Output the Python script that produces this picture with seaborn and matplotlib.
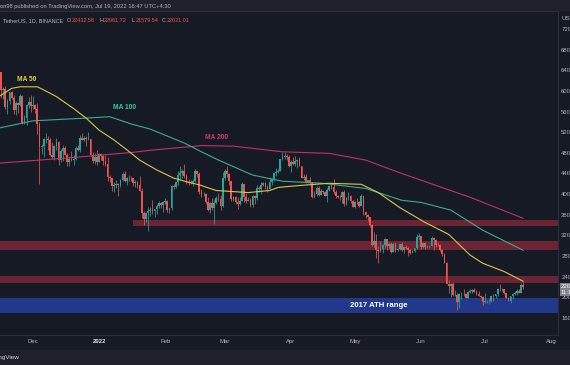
import matplotlib
matplotlib.use("Agg")
import matplotlib.pyplot as plt
import matplotlib.dates as mdates
from matplotlib.patches import Rectangle
import numpy as np
import pandas as pd
import seaborn as sns

# BTC/USDT daily candles (thousands of USDT), Nov 15 2021 .. Jul 19 2022
start_day = "2021-11-15"
first_open = 65.5
closes = [
    # Nov
    63.6, 60.1, 60.4, 56.9, 58.1, 59.7, 58.7, 56.3, 57.6, 57.2, 59.0, 53.7, 54.7, 57.3, 57.8, 57.0,
    # Dec
    57.2, 56.5, 53.6, 49.2, 49.4, 50.6, 50.6, 50.5, 47.5, 47.1, 49.4, 50.1, 46.7, 48.3, 48.9, 47.6,
    46.2, 46.8, 46.7, 46.9, 49.0, 48.6, 50.8, 50.4, 50.8, 50.7, 50.7, 47.5, 46.5, 47.1, 46.2,
    # Jan
    47.7, 47.3, 46.4, 45.8, 43.4, 43.1, 41.5, 41.7, 41.9, 41.8, 42.7, 43.9, 42.6, 43.1, 43.2, 43.1,
    42.2, 42.4, 41.7, 40.7, 36.4, 35.1, 36.3, 36.7, 36.9, 36.8, 37.2, 37.7, 38.2, 37.9, 38.5,
    # Feb
    38.7, 36.9, 37.3, 41.6, 41.4, 42.4, 43.8, 44.0, 44.4, 43.5, 42.4, 42.2, 42.1, 42.5, 44.5, 43.9,
    40.5, 40.0, 40.1, 38.4, 37.0, 38.2, 37.3, 38.3, 39.2, 39.1, 37.7, 43.2,
    # Mar
    44.4, 43.9, 42.5, 39.1, 39.4, 38.4, 38.0, 38.7, 41.9, 39.4, 38.7, 38.8, 37.8, 39.7, 39.3, 41.1,
    40.9, 41.8, 42.2, 41.3, 41.0, 42.4, 42.9, 44.0, 44.3, 44.5, 46.8, 47.1, 47.4, 47.1, 45.5,
    # Apr
    46.3, 45.8, 46.4, 46.6, 45.5, 43.2, 43.4, 42.3, 42.8, 42.2, 39.5, 40.1, 41.1, 39.9, 40.6, 40.4,
    39.7, 40.8, 41.5, 41.4, 40.5, 39.7, 39.5, 39.45, 40.4, 38.1, 39.2, 39.7, 38.6, 37.6,
    # May
    38.5, 38.45, 37.7, 39.7, 36.6, 36.0, 35.5, 34.1, 30.1, 31.0, 29.1, 29.0, 29.3, 30.1, 31.3, 29.9,
    30.4, 28.7, 30.3, 29.2, 29.4, 30.3, 29.1, 29.7, 29.5, 29.2, 28.6, 29.0, 29.5, 31.7, 31.8,
    # Jun
    29.8, 30.5, 29.7, 29.85, 29.9, 31.4, 31.1, 30.2, 30.1, 29.1, 28.4, 26.6, 22.5, 22.1, 22.6, 20.4,
    20.5, 19.0, 20.6, 20.7, 20.65, 19.9, 21.1, 21.2, 21.5, 21.0, 20.7, 20.3, 20.1, 19.0,
    # Jul
    19.27, 19.24, 19.31, 20.2, 20.17, 20.55, 21.63, 21.59, 21.6, 20.8, 19.95, 19.3, 20.2, 20.6,
    20.8, 21.2, 20.8, 22.43, 22.02,
]
highs = [
    66.4, 63.6, 60.8, 60.9, 58.4, 59.8, 60.0, 59.3, 58.0, 57.9, 59.4, 59.2, 55.3, 57.4, 58.9, 59.2,
    59.0, 57.4, 57.6, 53.9, 49.7, 50.9, 51.9, 51.2, 50.8, 50.1, 49.5, 50.8, 50.3, 48.7, 49.5, 49.4,
    48.0, 47.3, 48.3, 47.5, 49.3, 49.6, 51.4, 51.8, 51.2, 51.3, 52.1, 50.7, 48.1, 47.9, 48.5,
    47.9, 47.9, 47.6, 47.5, 47.1, 43.7, 43.1, 42.3, 42.8, 42.2, 43.0, 44.3, 44.5, 43.4, 43.8, 43.5,
    43.2, 42.7, 42.6, 43.5, 41.1, 36.8, 36.5, 37.6, 37.5, 38.9, 37.2, 38.0, 38.7, 38.4, 38.7,
    39.3, 38.9, 37.4, 41.8, 41.9, 42.6, 44.5, 45.5, 44.8, 45.8, 43.9, 43.0, 42.7, 42.9, 44.8, 44.6,
    44.2, 40.9, 40.5, 40.2, 39.5, 38.4, 39.3, 39.0, 39.7, 40.3, 39.9, 44.2,
    44.9, 45.4, 44.1, 42.5, 39.6, 39.6, 39.4, 39.4, 42.4, 42.0, 40.2, 39.5, 39.3, 39.9, 39.9, 41.7,
    41.5, 42.3, 42.4, 42.3, 41.7, 43.4, 43.0, 44.2, 45.1, 44.8, 46.9, 48.2, 48.2, 47.7, 47.6,
    46.7, 47.2, 47.4, 46.9, 47.2, 45.5, 43.9, 43.9, 42.8, 43.4, 42.4, 40.7, 41.6, 41.5, 40.9, 40.7,
    40.6, 41.1, 41.8, 42.2, 43.0, 40.8, 39.9, 39.9, 40.6, 40.8, 39.5, 40.4, 39.9, 38.8,
    38.7, 39.2, 38.6, 40.0, 39.8, 36.7, 36.1, 35.5, 34.3, 32.7, 32.2, 30.0, 31.0, 30.3, 31.4, 31.3,
    30.8, 30.7, 30.5, 30.8, 29.6, 30.4, 30.7, 29.8, 30.2, 29.8, 29.4, 29.2, 29.6, 32.2, 32.4,
    31.9, 30.6, 30.7, 29.9, 30.2, 31.8, 31.6, 31.3, 30.7, 30.4, 29.4, 28.6, 26.9, 23.4, 22.8, 22.9,
    21.4, 20.8, 20.8, 21.0, 21.7, 20.9, 21.2, 21.6, 21.6, 21.9, 21.5, 21.2, 20.4, 20.2,
    20.9, 19.4, 19.7, 20.3, 20.7, 20.7, 21.8, 22.5, 21.9, 21.6, 20.9, 20.0, 20.3, 20.9,
    21.2, 21.6, 21.7, 22.8, 22.96,
]
lows = [
    63.4, 58.6, 58.4, 56.5, 55.6, 57.4, 58.5, 55.6, 55.3, 55.8, 57.0, 53.5, 53.6, 53.3, 56.7, 56.0,
    56.5, 55.8, 51.7, 42.0, 47.7, 47.1, 50.0, 48.6, 47.3, 46.9, 46.6, 48.6, 45.7, 46.3, 46.5, 47.5,
    45.5, 45.5, 46.4, 45.6, 46.6, 48.4, 48.1, 50.4, 50.2, 49.4, 50.5, 47.3, 46.1, 45.9, 45.7,
    46.2, 46.7, 45.7, 45.5, 42.5, 42.4, 40.6, 40.5, 41.2, 39.7, 41.3, 42.5, 42.3, 41.7, 42.6, 42.6,
    41.5, 41.3, 41.1, 40.6, 35.4, 34.0, 34.6, 32.9, 35.7, 36.2, 35.5, 36.2, 37.3, 37.4, 36.6,
    38.1, 36.6, 36.3, 37.0, 40.9, 41.1, 41.7, 42.7, 43.2, 43.2, 42.0, 41.7, 41.9, 41.6, 42.4, 43.3,
    40.1, 39.5, 39.6, 38.0, 36.8, 36.4, 37.0, 34.3, 38.0, 38.6, 37.0, 37.5,
    42.8, 43.3, 41.8, 38.6, 38.6, 38.1, 37.2, 37.9, 38.7, 38.5, 38.2, 38.7, 37.6, 37.6, 38.1, 38.9,
    40.5, 40.1, 41.5, 40.9, 40.5, 40.9, 41.7, 42.6, 43.6, 44.1, 44.4, 46.6, 46.9, 46.6, 45.2,
    44.2, 45.6, 45.5, 45.1, 45.4, 43.1, 42.7, 42.1, 42.1, 41.9, 39.2, 39.3, 39.6, 39.6, 39.8, 40.0,
    39.6, 38.5, 40.6, 40.9, 40.0, 39.2, 39.3, 38.9, 38.2, 37.7, 37.9, 38.9, 38.2, 37.6,
    37.4, 38.1, 37.5, 37.7, 35.9, 35.3, 34.8, 33.7, 30.0, 29.7, 27.7, 26.7, 28.7, 28.6, 29.5, 29.1,
    29.5, 28.6, 28.7, 28.7, 28.9, 29.2, 28.9, 28.6, 29.3, 28.0, 28.3, 28.5, 28.8, 29.3, 31.2,
    29.3, 29.6, 29.3, 29.5, 29.5, 29.9, 29.2, 29.8, 29.9, 28.9, 28.1, 26.6, 22.6, 20.8, 20.1, 20.2,
    20.2, 17.6, 17.9, 19.6, 20.3, 19.8, 19.9, 20.8, 20.9, 21.0, 20.5, 20.2, 19.8, 18.6,
    18.9, 18.9, 18.8, 19.0, 19.3, 19.8, 20.3, 21.2, 21.3, 20.7, 19.9, 19.2, 18.9, 19.6,
    20.4, 20.5, 20.8, 20.75, 21.58,
]

# moving averages
ma50_dates = ["2021-11-15", "2021-11-21", "2021-11-25", "2021-12-03", "2021-12-06", "2021-12-12",
              "2021-12-20", "2021-12-26", "2022-01-01", "2022-01-08", "2022-01-14", "2022-01-20",
              "2022-01-28", "2022-02-05", "2022-02-11", "2022-02-17", "2022-02-25", "2022-03-12",
              "2022-03-22", "2022-03-26", "2022-04-06", "2022-04-19", "2022-05-04", "2022-05-12",
              "2022-05-22", "2022-06-03", "2022-06-14", "2022-06-24", "2022-06-30", "2022-07-10",
              "2022-07-19"]
ma50 = [58.9, 60.5, 60.8, 60.8, 60.2, 58.9, 56.6, 54.7, 52.4, 50.5, 48.6, 46.6, 44.7, 43.1, 42.4,
        41.8, 40.7, 40.3, 40.7, 41.3, 41.7, 42.1, 41.9, 40.3, 37.4, 34.5, 32.2, 28.2, 26.6, 25.0,
        23.1]
ma100_dates = ["2021-11-15", "2021-12-01", "2021-12-24", "2022-01-06", "2022-01-16", "2022-01-25",
               "2022-02-10", "2022-02-18", "2022-02-26", "2022-03-14", "2022-03-28", "2022-04-16",
               "2022-05-06", "2022-05-23", "2022-06-01", "2022-06-15", "2022-06-30", "2022-07-19"]
ma100 = [52.8, 54.2, 54.7, 55.0, 53.6, 52.6, 49.9, 48.2, 46.6, 43.7, 42.5, 42.1, 41.1, 38.8, 38.4,
         36.9, 33.0, 29.1]
ma200_dates = ["2021-11-15", "2021-12-17", "2022-01-17", "2022-01-25", "2022-02-18", "2022-03-05",
               "2022-03-28", "2022-04-19", "2022-05-06", "2022-05-23", "2022-06-01", "2022-06-24",
               "2022-07-19"]
ma200 = [46.0, 47.0, 48.1, 48.5, 49.4, 49.3, 48.2, 47.9, 46.6, 44.0, 42.7, 39.4, 35.3]

# support / resistance zones
zone_low = [33.8, 29.2, 22.7]
zone_high = [34.9, 30.9, 24.2]
zone_start = ["2022-01-17", "2021-11-01", "2021-11-01"]
ath_low, ath_high = 17.0, 19.8

price_ticks = list(range(16, 76, 4))
month_days = ["2021-12-01", "2022-01-01", "2022-02-01", "2022-03-01", "2022-04-01",
              "2022-05-01", "2022-06-01", "2022-07-01", "2022-08-01"]
month_labels = ["Dec", "2022", "Feb", "Mar", "Apr", "May", "Jun", "Jul", "Aug"]

BG = "#161a25"
UP, DOWN = "#26a69a", "#ef5350"
GREY = "#b2b5be"
LINE = "#2a2e39"

sns.set_theme(style="dark", rc={"axes.facecolor": BG, "figure.facecolor": BG})
plt.rcParams["font.family"] = ["Liberation Sans", "DejaVu Sans"]

W, H = 570, 365
fig = plt.figure(figsize=(W / 100, H / 100), dpi=100)
ax = fig.add_axes([0, 30 / H, 558 / W, 324 / H])

def fx(px):
    return px / W

def fy(py):
    return 1 - py / H

# candles
days = mdates.date2num(pd.date_range(start_day, periods=len(closes), freq="D"))
c = np.array(closes)
o = np.r_[first_open, c[:-1]]
hi = np.maximum(highs, np.maximum(o, c))
lo = np.minimum(lows, np.minimum(o, c))
cols = np.where(c >= o, UP, DOWN)
ax.vlines(days, lo, hi, colors=cols, linewidth=0.55, zorder=3)
ax.bar(days, np.maximum(np.abs(c - o), 0.08), bottom=np.minimum(o, c), width=0.8,
       color=cols, linewidth=0, zorder=4)

# axis ranges (Dec 1 sits 33px from left, 2.1317 px per day; 5.16 px per 1k)
dec1 = mdates.date2num(pd.Timestamp("2021-12-01"))
x0, x1 = dec1 - 33 / 2.1317, dec1 + 525 / 2.1317
ax.set_xlim(x0, x1)
ax.set_ylim(72 - (335 - 29) / 5.16, 72 + (29 - 11) / 5.16)

# zones
for zl, zh, zs in zip(zone_low, zone_high, zone_start):
    start = max((mdates.date2num(pd.Timestamp(zs)) - x0) / (x1 - x0), 0)
    ax.axhspan(zl, zh, xmin=start, xmax=1, color="#6a2433", lw=0, zorder=1)
ax.axhspan(ath_low, ath_high, color="#22388a", lw=0, zorder=1)
ax.text(mdates.date2num(pd.Timestamp("2022-05-12")), (ath_low + ath_high) / 2, "2017 ATH range",
        color="white", fontsize=5.6, fontweight="bold", ha="center", va="center", zorder=6)

# moving averages
for dts, vals, col in [(ma200_dates, ma200, "#c2306b"), (ma100_dates, ma100, "#3aae8a"),
                       (ma50_dates, ma50, "#d9c64a")]:
    sns.lineplot(x=mdates.date2num(pd.to_datetime(dts)), y=vals, color=col, linewidth=0.8,
                 ax=ax, zorder=5)

ax.text(mdates.date2num(pd.Timestamp("2021-11-28")), 62.3, "MA 50", color="#e2d03c",
        fontsize=4.8, fontweight="bold", ha="center", va="center")
ax.text(mdates.date2num(pd.Timestamp("2022-01-13")), 56.7, "MA 100", color="#3ccb9a",
        fontsize=4.8, fontweight="bold", ha="center", va="center")
ax.text(mdates.date2num(pd.Timestamp("2022-02-25")), 50.9, "MA 200", color="#d3356f",
        fontsize=4.8, fontweight="bold", ha="center", va="center")

# axes styling
ax.grid(False)
ax.spines["left"].set_visible(False)
for side in ["right", "bottom", "top"]:
    ax.spines[side].set_color(LINE)
    ax.spines[side].set_linewidth(0.8)
ax.yaxis.tick_right()
ax.set_yticks(price_ticks)
ax.set_yticklabels([f"{v * 1000:.2f}" for v in price_ticks])
ax.tick_params(axis="y", length=0, pad=2.3, labelsize=4.3, labelcolor=GREY)
ax.set_xticks(mdates.date2num(pd.to_datetime(month_days)))
ax.set_xticklabels(month_labels)
ax.tick_params(axis="x", length=0, pad=3.2, labelsize=4.3, labelcolor=GREY)
for lab in ax.get_xticklabels():
    if lab.get_text() == "2022":
        lab.set_color("#e0e3eb")
        lab.set_fontweight("bold")

# header / footer strips
fig.add_artist(Rectangle((0, fy(11)), 1, 11 / H, transform=fig.transFigure,
                         facecolor="#1e212b", lw=0, zorder=-1))
fig.add_artist(Rectangle((0, 0), 1, 15 / H, transform=fig.transFigure,
                         facecolor="#1e212b", lw=0, zorder=-1))
fig.text(fx(0), fy(6.5), "on98 published on TradingView.com, Jul 19, 2022 16:47 UTC+4:30",
         color=GREY, fontsize=4.15, va="center")
fig.text(fx(3), fy(20.5), "TetherUS, 1D, BINANCE", color=GREY, fontsize=4.0, va="center")
for px, key, val in [(67, "O", "22432.58"), (99, "H", "22961.72"), (131, "L", "21579.54"),
                     (162, "C", "22021.01")]:
    fig.text(fx(px), fy(20.5), key, color=GREY, fontsize=4.0, va="center")
    fig.text(fx(px + 4.2), fy(20.5), val, color="#ef5350", fontsize=4.0, va="center")
fig.text(fx(20), fy(358), "TradingView", color="#d1d4dc", fontsize=4.6, ha="right", va="center")
fig.text(fx(561), fy(18), "USDT", color=GREY, fontsize=4.3, va="center")

# last price label
fig.add_artist(Rectangle((fx(559.5), fy(296)), 11 / W, 13 / H, transform=fig.transFigure,
                         facecolor="#7e8189", lw=0, zorder=10))
fig.text(fx(561), fy(286.5), "22021.01", color="white", fontsize=4.3, va="center", zorder=11)
fig.text(fx(561), fy(292.5), "11:12:43", color="white", fontsize=4.3, va="center", zorder=11)

fig.savefig("out.png", dpi=100, facecolor=BG)
